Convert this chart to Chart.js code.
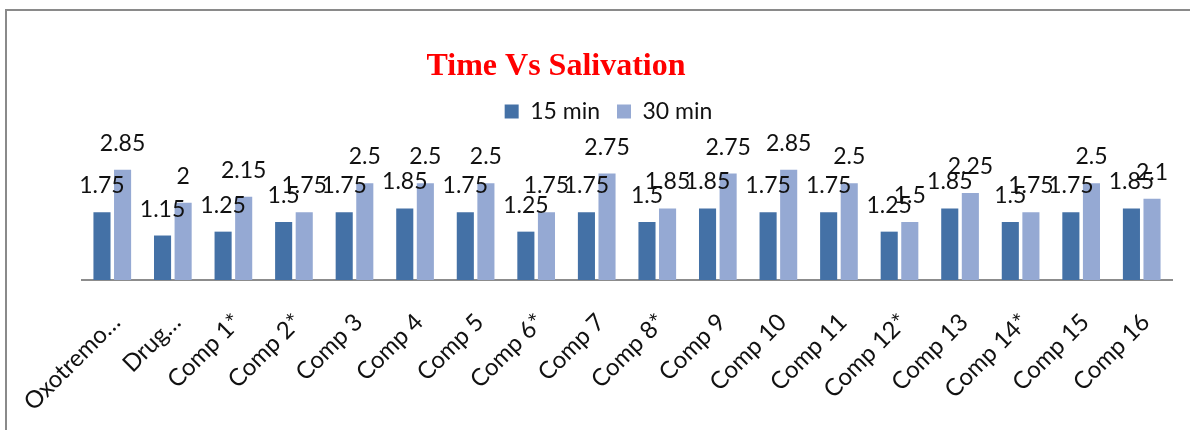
<!DOCTYPE html>
<html>
<head>
<meta charset="utf-8">
<script src="https://cdn.jsdelivr.net/npm/chart.js@4.4.1/dist/chart.umd.min.js"></script>
<style>
  html, body { margin: 0; padding: 0; background: #ffffff; }
  #wrap { width: 1190px; height: 430px; position: relative; }
</style>
</head>
<body>
<div id="wrap"><canvas id="c" width="1190" height="430"></canvas></div>
<script>
// Salivation scores after 15 and 30 minutes for each compound
const categories = ['Oxotremo…', 'Drug…', 'Comp 1*', 'Comp 2*', 'Comp 3', 'Comp 4', 'Comp 5', 'Comp 6*', 'Comp 7',
  'Comp 8*', 'Comp 9', 'Comp 10', 'Comp 11', 'Comp 12*', 'Comp 13', 'Comp 14*', 'Comp 15', 'Comp 16'];
const min15 = [1.75, 1.15, 1.25, 1.5, 1.75, 1.85, 1.75, 1.25, 1.75, 1.5, 1.85, 1.75, 1.75, 1.25, 1.85, 1.5, 1.75, 1.85];
const min30 = [2.85, 2, 2.15, 1.75, 2.5, 2.5, 2.5, 1.75, 2.75, 1.85, 2.75, 2.85, 2.5, 1.5, 2.25, 1.75, 2.5, 2.1];
const seriesNames = ['15 min', '30 min'];
const chartTitle = 'Time Vs Salivation';

const LABEL_FONT = 'Lato, "Open Sans", sans-serif';

// Thin grey frame around the chart object
const framePlugin = {
  id: 'frame',
  beforeDraw(chart) {
    const ctx = chart.ctx;
    ctx.save();
    ctx.fillStyle = '#ffffff';
    ctx.fillRect(0, 0, chart.width, chart.height);
    ctx.strokeStyle = '#8a8a8a';
    ctx.lineWidth = 2;
    ctx.strokeRect(6, 10, chart.width + 20, chart.height + 20);
    ctx.restore();
  }
};

// Red serif heading
const headingPlugin = {
  id: 'heading',
  afterDraw(chart) {
    const ctx = chart.ctx;
    ctx.save();
    ctx.font = 'bold 32px "Liberation Serif", "Times New Roman", serif';
    ctx.fillStyle = '#ff0000';
    ctx.textAlign = 'center';
    ctx.textBaseline = 'middle';
    ctx.fillText(chartTitle, 556, 67);
    ctx.restore();
  }
};

// Value written above every bar
const valueLabelPlugin = {
  id: 'valueLabels',
  afterDatasetsDraw(chart) {
    const ctx = chart.ctx;
    ctx.save();
    ctx.font = '23px ' + LABEL_FONT;
    ctx.fillStyle = '#111111';
    ctx.textAlign = 'center';
    ctx.textBaseline = 'alphabetic';
    chart.data.datasets.forEach((ds, di) => {
      const meta = chart.getDatasetMeta(di);
      meta.data.forEach((bar, i) => {
        ctx.fillText(String(ds.data[i]), bar.x, bar.y - 19);
      });
    });
    ctx.restore();
  }
};

new Chart(document.getElementById('c'), {
  type: 'bar',
  data: {
    labels: categories,
    datasets: [
      { label: seriesNames[0], data: min15, backgroundColor: '#4471A6', barPercentage: 0.83, categoryPercentage: 0.68 },
      { label: seriesNames[1], data: min30, backgroundColor: '#95A9D3', barPercentage: 0.83, categoryPercentage: 0.68 }
    ]
  },
  options: {
    responsive: false,
    animation: false,
    devicePixelRatio: 1,
    layout: { padding: { top: 83, left: 45, right: 18, bottom: 0 } },
    plugins: {
      title: { display: false },
      tooltip: { enabled: false },
      legend: {
        position: 'top',
        labels: {
          boxWidth: 14,
          boxHeight: 14,
          padding: 17,
          color: '#111111',
          font: { family: LABEL_FONT, size: 23 }
        }
      }
    },
    scales: {
      x: {
        grid: { display: false },
        border: { display: true, color: '#8c8c8c', width: 2 },
        ticks: {
          autoSkip: false,
          minRotation: 45,
          maxRotation: 45,
          color: '#111111',
          padding: 20,
          labelOffset: 4,
          font: { family: LABEL_FONT, size: 24 }
        },
        afterFit(scale) { scale.height = 150; }
      },
      y: {
        min: 0,
        max: 3.8,
        grid: { display: false },
        border: { display: false },
        ticks: { display: false },
        afterFit(scale) { scale.width = 37; }
      }
    }
  },
  plugins: [framePlugin, headingPlugin, valueLabelPlugin]
});
</script>
</body>
</html>
